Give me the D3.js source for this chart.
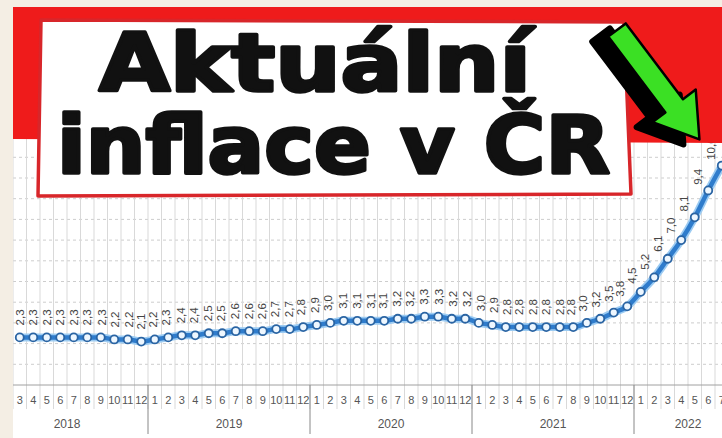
<!DOCTYPE html>
<html>
<head>
<meta charset="utf-8">
<script src="https://cdn.jsdelivr.net/npm/d3@7"></script>
<style>
  html, body { margin: 0; padding: 0; background: #f4eee4; }
  svg { display: block; }
</style>
</head>
<body>
<div id="chart"></div>
<script>
// axis categories
const years = ["2018", "2019", "2020", "2021", "2022"];
const monthTicks = ["1", "2", "3", "4", "5", "6", "7", "8", "9", "10", "11", "12"];
const axisEnd = "2022-8";       // axis runs one month past the data
const firstValue = "2018-3";    // first month that has a value

// average inflation, % (from 2018-3 on)
const inflation = [
  2.3, 2.3, 2.3, 2.3, 2.3, 2.3, 2.3, 2.2, 2.2, 2.1,
  2.2, 2.3, 2.4, 2.4, 2.5, 2.5, 2.6, 2.6, 2.6, 2.7, 2.7, 2.8,
  2.9, 3.0, 3.1, 3.1, 3.1, 3.1, 3.2, 3.2, 3.3, 3.3, 3.2, 3.2,
  3.0, 2.9, 2.8, 2.8, 2.8, 2.8, 2.8, 2.8, 3.0, 3.2, 3.5, 3.8,
  4.5, 5.2, 6.1, 7.0, 8.1, 9.4, 10.6
];

const titleLines = ["Aktuální", "inflace v ČR"];

const W = 722, H = 438;
const plotLeft = 13, plotTop = 7;
const axisY = 385;

let periods = years.flatMap(y => monthTicks.map(m => y + "-" + m));
periods = periods.slice(0, periods.indexOf(axisEnd) + 1);
const start = periods.indexOf(firstValue);
const data = inflation.map((v, i) => ({ p: periods[start + i], v: v }));

const x = d3.scaleBand().domain(periods).range([-14, 742]);
const bw = x.bandwidth();
const y = d3.scaleLinear().domain([0, 12]).range([axisY, 136.6]);
const cx = d => x(d.p) + bw / 2;
const fmt = v => d3.format(".1f")(v).replace(".", ",");

const svg = d3.select("#chart").append("svg")
  .attr("width", W).attr("height", H);

svg.append("rect").attr("width", W).attr("height", H).attr("fill", "#f4eee4");

svg.append("defs").append("clipPath").attr("id", "plotClip")
  .append("rect").attr("x", plotLeft).attr("y", plotTop)
  .attr("width", W - plotLeft).attr("height", H - plotTop);

const g = svg.append("g").attr("clip-path", "url(#plotClip)");
g.append("rect").attr("x", plotLeft).attr("y", plotTop)
  .attr("width", W - plotLeft).attr("height", H - plotTop)
  .attr("fill", "#ffffff");

// horizontal grid
g.selectAll(".hgrid").data(y.ticks(12).filter(v => v > 0)).join("line")
  .attr("x1", plotLeft).attr("x2", W)
  .attr("y1", d => y(d)).attr("y2", d => y(d))
  .attr("stroke", "#cdcdcd").attr("stroke-dasharray", "3,3");

// month separators
g.selectAll(".vgrid").data(periods).join("line")
  .attr("x1", d => x(d)).attr("x2", d => x(d))
  .attr("y1", 130).attr("y2", 409)
  .attr("stroke", "#d9d9d9");

// axis line
g.append("line").attr("x1", plotLeft).attr("x2", W).attr("y1", axisY).attr("y2", axisY)
  .attr("stroke", "#a0a0a0");

// year separators
g.selectAll(".ysep").data(years.slice(1)).join("line")
  .attr("x1", d => x(d + "-1")).attr("x2", d => x(d + "-1"))
  .attr("y1", axisY).attr("y2", 434)
  .attr("stroke", "#888");

// month labels (only those whose cell centre is on the visible part)
g.selectAll(".mlab")
  .data(periods.filter(p => x(p) + bw / 2 > plotLeft && x(p) + bw / 2 < W))
  .join("text")
  .attr("x", d => x(d) + bw / 2).attr("y", 404)
  .attr("text-anchor", "middle")
  .attr("font-family", "Liberation Sans, Arial, sans-serif")
  .attr("font-size", 11).attr("fill", "#555")
  .text(d => d.split("-")[1]);

// year labels
g.selectAll(".ylab").data(years).join("text")
  .attr("x", yr => {
    const ps = periods.filter(p => p.startsWith(yr + "-"));
    return (x(ps[0]) + x(ps[ps.length - 1]) + bw) / 2;
  })
  .attr("y", 428)
  .attr("text-anchor", "middle")
  .attr("font-family", "Liberation Sans, Arial, sans-serif")
  .attr("font-size", 12).attr("fill", "#555")
  .text(d => d);

// series line
const line = d3.line().x(cx).y(d => y(d.v)).curve(d3.curveMonotoneX);
g.append("path").datum(data).attr("d", line)
  .attr("fill", "none").attr("stroke", "#9ccbf2").attr("stroke-width", 8);
g.append("path").datum(data).attr("d", line)
  .attr("fill", "none").attr("stroke", "#2f7ccc").attr("stroke-width", 4.5);

g.selectAll(".pt").data(data).join("circle")
  .attr("cx", cx).attr("cy", d => y(d.v)).attr("r", 4)
  .attr("fill", "#eef7ff").attr("stroke", "#2a64a3").attr("stroke-width", 1.8);

// value labels, pushed off the line along its normal
g.selectAll(".vlab").data(data).join("text")
  .each(function (d, i) {
    const a = data[Math.max(0, i - 1)], b = data[Math.min(data.length - 1, i + 1)];
    const dx = cx(b) - cx(a), dy = y(b.v) - y(a.v);
    const len = Math.hypot(dx, dy);
    const ax = cx(d) + dy / len * 12, ay = y(d.v) - dx / len * 12;
    d3.select(this).attr("transform", `translate(${ax},${ay}) rotate(-90)`);
  })
  .attr("dominant-baseline", "central")
  .attr("font-family", "Liberation Sans, Arial, sans-serif")
  .attr("font-size", 11.5).attr("fill", "#444")
  .text(d => fmt(d.v));

// red banner
svg.append("polygon")
  .attr("points", "13,7 722,7 722,143 13,139")
  .attr("fill", "#ef1b1b");

// title box
svg.append("polygon")
  .attr("points", "41,20 624,22 631,194 38,196")
  .attr("fill", "#ffffff").attr("stroke", "#d8262a").attr("stroke-width", 3.5)
  .attr("stroke-linejoin", "round");

const title = svg.append("g")
  .attr("font-family", "DejaVu Sans, sans-serif").attr("font-weight", "bold")
  .attr("font-size", 80).attr("fill", "#111")
  .attr("stroke", "#111").attr("stroke-width", 3.5).attr("stroke-linejoin", "round");
title.append("text").attr("x", 99).attr("y", 91)
  .attr("textLength", 432).attr("lengthAdjust", "spacingAndGlyphs")
  .text(titleLines[0]);
title.append("text").attr("x", 57).attr("y", 173)
  .attr("textLength", 553).attr("lengthAdjust", "spacingAndGlyphs")
  .text(titleLines[1]);

// green arrow with black shadow
const arrowPts = "0,-11 95,-11 95,-27 137,0 95,27 95,11 0,11";
svg.append("polygon").attr("points", arrowPts)
  .attr("transform", "translate(601,35) rotate(53)")
  .attr("fill", "#000").attr("stroke", "#000").attr("stroke-width", 6)
  .attr("stroke-linejoin", "round");
svg.append("polygon").attr("points", arrowPts)
  .attr("transform", "translate(617,30) rotate(53)")
  .attr("fill", "#3be024").attr("stroke", "#000").attr("stroke-width", 2.5)
  .attr("stroke-linejoin", "round");
</script>
</body>
</html>
